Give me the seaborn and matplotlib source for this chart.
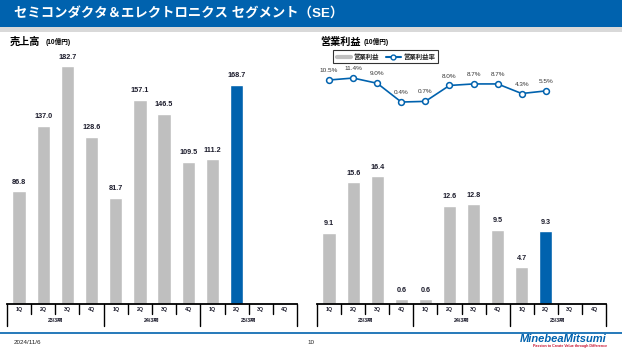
import matplotlib
matplotlib.use("Agg")
import matplotlib.pyplot as plt
import seaborn as sns
import pandas as pd
import numpy as np
from matplotlib.lines import Line2D
from matplotlib.patches import Rectangle

sns.set_style("white")
plt.rcParams['font.family'] = ['Liberation Sans', 'Noto Sans CJK JP', 'DejaVu Sans']

# ---------------- data ----------------
quarters = ["1Q", "2Q", "3Q", "4Q"] * 3
years = ["23/3期", "24/3期", "25/3期"]
slots = [f"{y}-{q}" for y in years for q in ["1Q", "2Q", "3Q", "4Q"]]
sales = [86.8, 137.0, 182.7, 128.6, 81.7, 157.1, 146.5, 109.5, 111.2, 168.7]
profit = [9.1, 15.6, 16.4, 0.6, 0.6, 12.6, 12.8, 9.5, 4.7, 9.3]
margin = [10.5, 11.4, 9.0, 0.4, 0.7, 8.0, 8.7, 8.7, 4.3, 5.5]

title = "セミコンダクタ＆エレクトロニクス セグメント（SE）"
left_title = "売上高"
right_title = "営業利益"
unit = "(10億円)"
legend_labels = ["営業利益", "営業利益率"]

BLUE = "#0062AE"
GRAY = "#BFBFBF"
TXT = "#1c1c2c"

W, H = 622, 350
fig = plt.figure(figsize=(W / 100, H / 100), dpi=100)

# header bar
fig.add_artist(Rectangle((0, 1 - 27 / H), 1, 27 / H, transform=fig.transFigure,
                         color="#0062AE", lw=0, zorder=0))
fig.add_artist(Rectangle((0, 1 - 32 / H), 1, 5 / H, transform=fig.transFigure,
                         color="#D9D9D9", lw=0, zorder=0))
fig.text(14 / W, 1 - 14 / H, title, color="white", fontsize=9.6, fontweight="bold",
         va="center", ha="left")

# footer
fig.add_artist(Line2D([0, 1], [1 - 333 / H] * 2, transform=fig.transFigure,
                      color="#0062AE", lw=1.2))
fig.text(14 / W, 1 - 342 / H, "2024/11/6", fontsize=4.5, va="center", color="#222222")
fig.text(311 / W, 1 - 342 / H, "10", fontsize=4.5, va="center", ha="center", color="#222222")
fig.text(607 / W, 1 - 339 / H, "MinebeaMitsumi", fontsize=8, fontweight="bold",
         style="italic", color="#0062AE", ha="right", va="center")
fig.text(607 / W, 1 - 346 / H, "Passion to Create Value through Difference", fontsize=2.6,
         fontweight="bold", color="#C8102E", ha="right", va="center")

bottom = 46 / H
top_px = 50
height = (304 - top_px) / H


def make_panel(left_px, right_px, values, ylim_top, panel_title):
    ax = fig.add_axes([left_px / W, bottom, (right_px - left_px) / W, height])
    df = pd.DataFrame({"slot": slots[:len(values)], "value": values})
    pal = {s: GRAY for s in slots}
    pal[slots[len(values) - 1]] = BLUE
    sns.barplot(data=df, x="slot", y="value", hue="slot", palette=pal, order=slots,
                hue_order=slots, width=0.55, legend=False, ax=ax, saturation=1)
    ax.set_xlim(-0.5, 11.5)
    ax.set_ylim(0, ylim_top)
    for s in ["top", "left", "right"]:
        ax.spines[s].set_visible(False)
    ax.spines["bottom"].set_color("black")
    ax.spines["bottom"].set_linewidth(1.3)
    ax.set_xticks([])
    ax.set_yticks([])
    ax.set_xlabel("")
    ax.set_ylabel("")
    for i, v in enumerate(values):
        ax.annotate(f"{v:.1f}", (i, v), xytext=(0, 4), textcoords="offset points",
                    ha="center", va="bottom", fontsize=5.2, fontweight="bold", color=TXT)
    tr = ax.get_xaxis_transform()
    ph = 254.0
    for k in range(13):
        x = k - 0.5
        ybot = -22 / ph if k % 4 == 0 else -10 / ph
        ax.plot([x, x], [0, ybot], transform=tr, color="black", lw=1.0, clip_on=False)
    for k, q in enumerate(quarters):
        ax.text(k, -5.5 / ph, q, transform=tr, ha="center", va="center", fontsize=3.8,
                fontweight="bold", color=TXT)
    for j, y in enumerate(years):
        ax.text(4 * j + 1.5, -16 / ph, y, transform=tr, ha="center", va="center",
                fontsize=3.8, fontweight="bold", color=TXT)
    # panel title
    fig.text((left_px + 3) / W, 1 - 42 / H, panel_title, fontsize=7.3, fontweight="bold",
             va="center", ha="left", color="black")
    return ax


axL = make_panel(7, 297, sales, 254 / 1.30, left_title)
fig.text(46 / W, 1 - 42.5 / H, unit, fontsize=4.8, fontweight="bold", va="center", color="black")

axR = make_panel(317, 606, profit, 254 / 7.8, right_title)
fig.text(364 / W, 1 - 42.5 / H, unit, fontsize=4.8, fontweight="bold", va="center", color="black")

# margin line
ax2 = axR.twinx()
mdf = pd.DataFrame({"x": np.arange(len(margin)), "m": margin})
sns.lineplot(data=mdf, x="x", y="m", ax=ax2, color=BLUE, lw=1.2, marker="o",
             markersize=4.2, markerfacecolor="white", markeredgecolor=BLUE,
             markeredgewidth=1.1)
ax2.set_xlim(-0.5, 11.5)
ax2.set_ylim((102.9 - 304) / 2.18, (102.9 - top_px) / 2.18)
for s in ["top", "left", "right", "bottom"]:
    ax2.spines[s].set_visible(False)
ax2.set_yticks([])
ax2.set_ylabel("")
ax2.set_xlabel("")
for i, m in enumerate(margin):
    ax2.annotate(f"{m:.1f}%", (i, m), xytext=(0, 5), textcoords="offset points",
                 ha="center", va="bottom", fontsize=4.6, color="#333333")

handles = [Line2D([], [], color=GRAY, lw=3),
           Line2D([], [], color=BLUE, lw=1.5, marker="o", markersize=3.5,
                  markerfacecolor="white", markeredgecolor=BLUE)]
leg = fig.legend(handles, legend_labels, loc="upper left",
                 bbox_to_anchor=(330 / W, 1 - 46.5 / H), ncol=2, frameon=True,
                 fancybox=False, edgecolor="black", handlelength=2.3,
                 handletextpad=0.4, columnspacing=1.0, borderpad=0.55,
                 prop={"weight": "bold", "size": 4.6})
leg.get_frame().set_linewidth(0.8)

fig.savefig("out.png", dpi=100)
